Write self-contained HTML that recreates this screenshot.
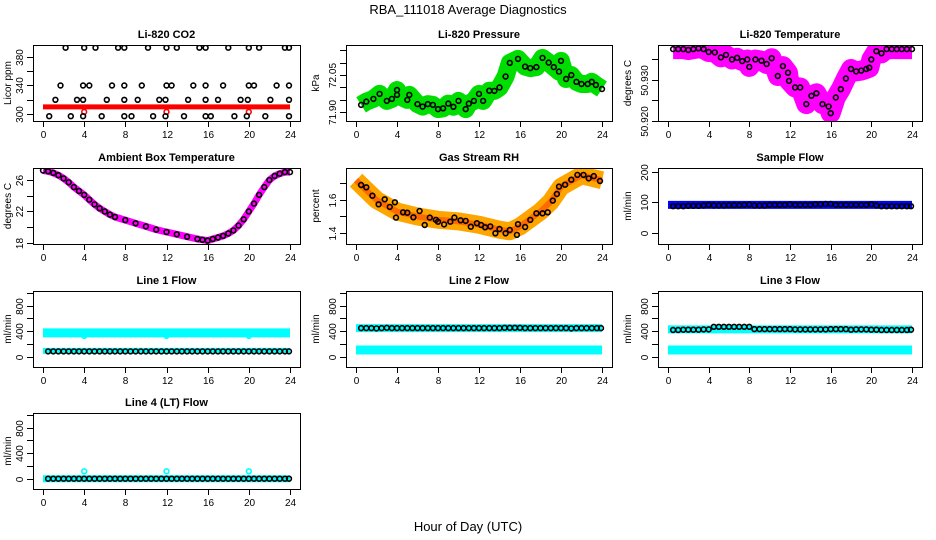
<!DOCTYPE html>
<html><head><meta charset="utf-8"><style>
html,body{margin:0;padding:0;background:#fff;}
svg{display:block;font-family:"Liberation Sans",sans-serif;}
</style></head><body>
<svg id="chart" width="936" height="540" viewBox="0 0 936 540" xmlns="http://www.w3.org/2000/svg">
<text x="468" y="14" text-anchor="middle" font-size="13">RBA_111018  Average Diagnostics</text>
<text x="468" y="531" text-anchor="middle" font-size="13">Hour of Day (UTC)</text>
</svg>
<script>
// ---- data ----
const xTicks = [0,4,8,12,16,20,24];
const co2BandHours = [0,24];
const co2BandValues = [310,310];
const co2Hours = [2.2,4,5.1,7.3,7.9,10.2,12,13,15.2,15.8,18,20,21,23.5,23.9,
 1.7,3.9,4.5,6.7,7.9,9.6,12,12.5,14.6,15.8,17.5,20,20.5,22.7,23.9,
 1.2,3.3,3.9,6.2,7.9,9.2,11.3,11.9,14.1,15.8,17,19.2,19.9,22.1,23.9,
 0.6,2.7,3.9,5.7,7.9,8.6,10.7,11.9,13.7,15.8,16.3,18.6,19.8,21.6,23.9];
const co2Values = [393,393,393,393,393,393,393,393,393,393,393,393,393,393,393,
 340,340,340,340,340,340,340,340,340,340,340,340,340,340,340,
 320,320,320,320,320,320,320,320,320,320,320,320,320,320,320,
 297,297,297,297,297,297,297,297,297,297,297,297,297,297,297];
const co2OutHours = [4,12,20];
const co2OutValues = [303,303,303];

const presHours = [0.5,1,1.7,2.3,3,3.5,4,4,5,5.2,6,6.5,7,7.5,8,8.5,9,9.5,10,10.7,11,11.5,12,12.4,13,13.5,14,14.6,15,15.8,16.5,17,17.6,18.2,18.8,19.3,19.8,20,20.5,21,21.5,22,22.6,23,23.4,24];
const presValues = [71.93,71.943,71.954,71.974,71.946,71.954,71.99,71.97,71.95,71.97,71.933,71.923,71.933,71.93,71.913,71.916,71.935,71.922,71.946,71.913,71.935,71.946,71.974,71.946,71.987,71.986,72.0,72.044,72.099,72.115,72.084,72.078,72.082,72.119,72.10,72.082,72.064,72.107,72.034,72.05,72.023,72.014,72.014,72.023,72.010,71.994];

const tempHours = [0.5,1,1.5,2,2.5,3,3.5,4,4.6,5.2,5.7,6.3,6.8,7.3,7.8,8,8.6,9.2,9.7,10.2,10.8,11.3,11.8,11.9,12.5,13,13.6,14.1,14.6,15.2,15.8,16,16.5,17,17.5,18,18.5,19,19.5,19.8,20,20.5,21,21.5,22,22.5,23,23.5,24];
const tempValues = [50.9374,50.9374,50.9374,50.9372,50.9374,50.9376,50.9374,50.9367,50.9366,50.9354,50.9360,50.9349,50.9353,50.9345,50.9349,50.9331,50.9349,50.9346,50.9338,50.9352,50.9309,50.9333,50.9317,50.9297,50.9281,50.9281,50.9241,50.9261,50.9267,50.9241,50.9235,50.9219,50.9257,50.9277,50.9303,50.9326,50.9320,50.9322,50.9326,50.9329,50.9349,50.9369,50.9364,50.9374,50.9374,50.9374,50.9374,50.9374,50.9374];

const ambHours = [0,0.5,1,1.5,2,2.5,3,3.5,4,4.5,5,5.5,6,6.5,7,8,9,10,11,12,13,14,15,15.5,16,16.5,17,17.5,18,18.5,19,19.5,20,20.5,21,21.5,22,22.5,23,23.5,24];
const ambValues = [27.2,27.1,26.9,26.6,26.2,25.7,25.1,24.6,24.1,23.5,22.9,22.4,22.0,21.6,21.3,20.9,20.5,20.1,19.7,19.4,19.1,18.8,18.5,18.4,18.3,18.5,18.7,18.9,19.2,19.6,20.2,21.0,22.0,23.0,24.1,25.1,26.0,26.5,26.8,27.0,27.0];

const rhHours = [0.5,1,1.6,2.2,2.8,3.3,3.8,3.9,4.6,5,5.6,6.2,6.7,7.2,7.8,8,8.6,9.2,9.6,10.2,10.7,11.2,11.8,12.2,12.6,13.1,13.6,14,14.6,15,15.7,15.8,16.5,17,17.6,18.2,18.7,19.2,19.6,19.8,20.4,21,21.6,22.2,22.7,23.2,23.8];
const rhValues = [1.691,1.677,1.626,1.574,1.604,1.558,1.586,1.493,1.525,1.523,1.495,1.533,1.448,1.493,1.479,1.468,1.452,1.468,1.493,1.477,1.473,1.438,1.459,1.448,1.434,1.440,1.398,1.424,1.398,1.418,1.388,1.453,1.436,1.479,1.519,1.519,1.525,1.596,1.636,1.681,1.693,1.723,1.752,1.752,1.731,1.745,1.715];
const rhBandHours = [0,2,4,6,8,10,12,14,15,16,18,19,20,22,24];
const rhBandValues = [1.72,1.6,1.53,1.5,1.48,1.47,1.45,1.42,1.41,1.44,1.53,1.59,1.68,1.75,1.72];

const flowHours = [0.5,1,1.5,2,2.5,3,3.5,4,4.5,5,5.5,6,6.5,7,7.5,8,8.5,9,9.5,10,10.5,11,11.5,12,12.5,13,13.5,14,14.5,15,15.5,16,16.5,17,17.5,18,18.5,19,19.5,20,20.5,21,21.5,22,22.5,23,23.5,23.9];
const sampleBand = [92,92];
const sampleValues = [88,88,88,89,89,89,90,92,90,90,90,91,91,91,92,93,90,90,90,92,92,92,92,94,92,92,92,92,94,94,95,95,92,92,92,92,92,92,92,94,90,88,88,88,88,88,88,88];
const line1Band = [375,375];
const line1Low = [95,95];
const line1Values = [88,88,88,88,88,88,88,88,88,88,88,88,88,88,88,88,88,88,88,88,88,88,88,88,88,88,88,88,88,88,88,88,88,88,88,88,88,88,88,88,88,88,88,88,88,88,88,88];
const line1OutHours = [4,12,20];
const line1OutValues = [330,330,330];
const line2Band = [450,450];
const line2Low = [110,110];
const line2Values = [450,450,450,445,450,455,450,450,450,450,450,450,450,450,450,450,450,450,450,450,450,450,450,450,450,450,450,450,455,455,455,455,450,450,450,450,450,450,450,450,450,445,450,450,450,450,450,450];
const line3Band = [430,430];
const line3Low = [110,110];
const line3Values = [420,420,425,425,425,425,430,430,470,470,470,470,470,470,470,470,435,435,435,435,435,435,435,435,430,430,430,430,430,430,430,435,435,435,435,425,430,430,430,425,425,420,420,420,420,420,420,425];
const line4Band = [5,5];
const line4Values = [5,5,5,5,5,5,5,5,5,5,5,5,5,5,5,5,5,5,5,5,5,5,5,5,5,5,5,5,5,5,5,5,5,5,5,5,5,5,5,5,5,5,5,5,5,5,5,5];
const line4OutHours = [4,12,20];
const line4OutValues = [120,120,120];
const flowTicks = [0,200,400,600,800,1000];
const flowLabels = ["0","","400","","800",""];

// ---- drawing ----
const svg = document.getElementById('chart');
const NS = 'http://www.w3.org/2000/svg';
const cols = [[33,300],[346,612],[658,922]];
const rows = [[45,121],[168,244],[291,367],[413,489]];
function mk(tag, attrs, parent){const e=document.createElementNS(NS,tag);for(const k in attrs)e.setAttribute(k,attrs[k]);(parent||svg).appendChild(e);return e;}

function panel(c,r,title,ylab,ylo,yhi,ticks,labels,name){
  const [x0,x1]=cols[c],[y0,y1]=rows[r];
  const g=mk('g',{});
  
  
  const sx=h=>x0+10+(h/24)*(x1-x0-20);
  const sy=v=>y1-(v-ylo)/(yhi-ylo)*(y1-y0);
  const clipId='clip'+c+r;
  const cp=mk('clipPath',{id:clipId},g);mk('rect',{x:x0,y:y0,width:x1-x0,height:y1-y0},cp);
  const plot=mk('g',{'clip-path':'url(#'+clipId+')'},g);
  
  
  const t=mk('text',{x:(x0+x1)/2,y:y0-7,'text-anchor':'middle','font-size':11,'font-weight':'bold'},g);t.textContent=title;
  
  
  const yl=mk('text',{transform:`translate(${c==0?11:x0-27},${(y0+y1)/2}) rotate(-90)`,'text-anchor':'middle','font-size':10},g);yl.textContent=ylab;
  
  
  const axg=mk('g',{stroke:'#000','stroke-width':1},g);
  
  
  mk('rect',{x:x0+0.5,y:y0+0.5,width:x1-x0,height:y1-y0,fill:'none'},axg);
  xTicks.forEach(h=>{const X=Math.round(sx(h))+0.5;mk('line',{x1:X,x2:X,y1:y1,y2:y1+6},axg);
    const tx=mk('text',{x:X,y:y1+17,'text-anchor':'middle','font-size':10,stroke:'none'},g);tx.textContent=h;
    
    });
  ticks.forEach((v,i)=>{const Y=Math.round(sy(v))+0.5;mk('line',{x1:x0-6,x2:x0,y1:Y,y2:Y},axg);
    if(labels[i]){const ty=mk('text',{transform:`translate(${x0-10},${Y}) rotate(-90)`,'text-anchor':'middle','font-size':10},g);ty.textContent=labels[i];
    
    }});
  return {plot,sx,sy};
}
function band(p,hours,vals,color,w,name){
  const d=hours.map((h,i)=>(i?'L':'M')+p.sx(h).toFixed(1)+','+p.sy(vals[i]).toFixed(1)).join(' ');
  const e=mk('path',{d,stroke:color,'stroke-width':w,fill:'none','stroke-linejoin':'round'},p.plot);
  
  
}
function pts(p,hours,vals,color,name){
  hours.forEach((h,i)=>{const e=mk('circle',{cx:p.sx(h).toFixed(1),cy:p.sy(vals[i]).toFixed(1),r:2.4,fill:'none',stroke:color,'stroke-width':1.6},p.plot);
  
  });
}
const ends=[0,24];

// CO2
let p=panel(0,0,'Li-820 CO2','Licor ppm',290.2,396.8,[300,320,340,360,380],['300','','340','','380'],'co2');
band(p,co2BandHours,co2BandValues,'#ff0000',5,'co2-band');
pts(p,co2OutHours,co2OutValues,'#ff0000','co2-outlier');
pts(p,co2Hours,co2Values,'#000','co2-point');
// Pressure
p=panel(1,0,'Li-820 Pressure','kPa',71.865,72.171,[71.90,71.95,72.00,72.05,72.10,72.15],['71.90','','','72.05','',''],'pressure');
band(p,presHours,presValues,'#00dd00',18,'pressure-band');
pts(p,presHours,presValues,'#000','pressure-point');
// Temperature
p=panel(2,0,'Li-820 Temperature','degrees C',50.92,50.9384,[50.92,50.925,50.93,50.935],['50.920','','50.930',''],'temperature');
band(p,tempHours,tempValues,'#ff00ff',20,'temperature-band');
pts(p,tempHours,tempValues,'#000','temperature-point');
// Ambient
p=panel(0,1,'Ambient Box Temperature','degrees C',17.87,27.52,[18,20,22,24,26],['18','','22','','26'],'ambient');
band(p,ambHours,ambValues,'#ff00ff',7,'ambient-band');
pts(p,ambHours,ambValues,'#000','ambient-point');
// RH
p=panel(1,1,'Gas Stream RH','percent',1.333,1.794,[1.4,1.5,1.6,1.7],['1.4','','1.6',''],'rh');
band(p,rhBandHours,rhBandValues,'#ffa500',18,'rh-band');
band(p,rhBandHours,rhBandValues,'#ff6a00',6,'rh-band-core');
pts(p,rhHours,rhValues,'#000','rh-point');
// Sample flow
p=panel(2,1,'Sample Flow','ml/min',-36,213,[0,100,200],['0','100','200'],'sample-flow');
band(p,ends,sampleBand,'#0000ff',8,'sample-flow-band');
pts(p,flowHours,sampleValues,'#000','sample-flow-point');
// Line flows
const fl=-155, fh=1027;
p=panel(0,2,'Line 1 Flow','ml/min',fl,fh,flowTicks,flowLabels,'line1-flow');
band(p,ends,line1Band,'#00ffff',9,'line1-band');
band(p,ends,line1Low,'#00ffff',6,'line1-low-band');
pts(p,line1OutHours,line1OutValues,'#00ffff','line1-outlier');
pts(p,flowHours,line1Values,'#000','line1-point');
p=panel(1,2,'Line 2 Flow','ml/min',fl,fh,flowTicks,flowLabels,'line2-flow');
band(p,ends,line2Band,'#00ffff',8,'line2-band');
band(p,ends,line2Low,'#00ffff',9,'line2-low-band');
pts(p,flowHours,line2Values,'#000','line2-point');
p=panel(2,2,'Line 3 Flow','ml/min',fl,fh,flowTicks,flowLabels,'line3-flow');
band(p,ends,line3Band,'#00ffff',8,'line3-band');
band(p,ends,line3Low,'#00ffff',9,'line3-low-band');
pts(p,flowHours,line3Values,'#000','line3-point');
p=panel(0,3,'Line 4 (LT) Flow','ml/min',fl,fh,flowTicks,flowLabels,'line4-flow');
band(p,ends,line4Band,'#00ffff',7,'line4-band');
pts(p,line4OutHours,line4OutValues,'#00ffff','line4-outlier');
pts(p,flowHours,line4Values,'#000','line4-point');
</script>
</body></html>
